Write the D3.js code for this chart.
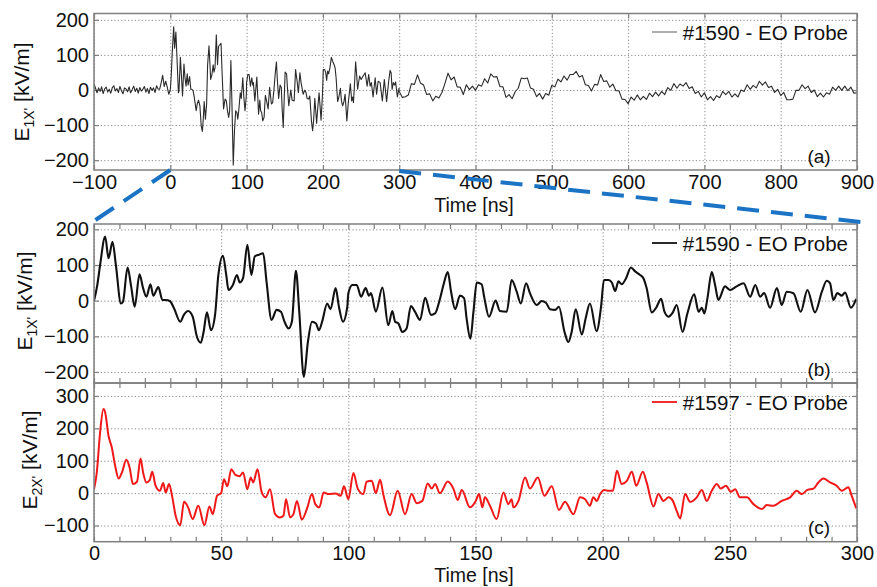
<!DOCTYPE html>
<html>
<head>
<meta charset="utf-8">
<script src="https://cdn.jsdelivr.net/npm/d3@7"></script>
<style>
body { margin: 0; background: #fff; }
text { font-family: "Liberation Sans", Arial, sans-serif; fill: #111; }
</style>
</head>
<body>
<svg id="fig" width="877" height="587"></svg>
<script>
// ---- data ----
// shot #1590, pre-trigger noise, one value every 2 ns from -100 ns
var pre1590Start = -100, pre1590Step = 2;
var pre1590 = [18, 5, -8, 6, -4, 9, -10, 3, 8, -6, 2, -9, 7, 12, -3, 4, -7, 10, -2, -11,
    6, 3, -5, 9, -8, 1, 11, -4, 5, -9, 7, -3, 2, 10, -6, 4, -10, 8, -1, 6,
    -7, 12, 3, 2, 20, 42, 10, 25, 8, -12];

// shot #1590, 0..300 ns  [t (ns), E (kV/m)]
var shot1590 = [[0,0],[1.3,44],[2.4,100],[4.4,180],[5.7,119],[7.3,165],[8.6,100],[10.6,-8],[11.4,-3],[13.2,93],
    [14.6,40],[16,-17],[17.9,74],[19.3,35],[20.6,11],[22.2,46],[23.3,14],[25.3,38],[26.9,2],[28.2,2],
    [29.8,-1],[31.5,-22],[33.9,-59],[35.4,-39],[37,-29],[38.8,-45],[40.5,-102],[42,-118],[43.1,-87],[44.4,-33],
    [46,-83],[47.6,-40],[48.9,72],[50.7,126],[52,72],[52.9,30],[54.6,44],[56.2,72],[57.3,51],[58.6,63],
    [60.3,157],[61.9,72],[63.2,124],[64.9,129],[66.5,133],[67.9,49],[69.8,-54],[71.8,-26],[73.5,-31],[74.9,-59],
    [76.5,-78],[77.8,-59],[79.4,84],[80.7,-31],[82.5,-214],[84.1,-116],[85.7,-59],[87.3,-64],[88.4,-83],[89.7,-59],
    [91.7,-8],[93,-24],[95,35],[96.3,-17],[97.9,-59],[99.6,-17],
    [100,21],[101.6,44],[103.3,44],[105,11],[106.8,35],[108.1,14],[108.9,21],[110.8,-31],[113.4,37],[115.7,-69],
    [117.3,-29],[118.4,-59],[119.7,-64],[121.2,-88],[122.9,-78],[124.6,-15],[126.2,-31],[128.2,-54],[130.2,8],[132.5,-40],
    [134.1,-36],[135.8,-1],[137.4,44],[139.1,80],[140.4,25],[142,-24],[143.9,14],[145.5,7],[146.5,-50],[148,-107],
    [149.2,-31],[150.5,51],[152.4,46],[153.5,7],[155.3,-45],[157.9,0],[159.6,-29],[162.3,-31],[164.2,58],[166.2,25],
    [167.8,-8],[169.9,49],[171.4,21],[174.1,-12],[176,-1],[177.7,-6],[179.3,-24],[181.3,-26],[182.8,-17],[185,-88],
    [186.5,-116],[187.8,-88],[189.4,-24],[191.8,-95],[193.3,-50],[195,-8],[197.6,-86],[199.4,-15],[200.5,58],[202.3,58],
    [203.6,51],[204.9,27],[206.2,54],[207.5,46],[209.2,63],[211.1,93],[212.8,82],[214.7,72],[216,63],[217.3,35],
    [219.3,-33],[221,-20],[223,5],[224.3,-31],[225.9,-45],[227.6,-33],[229.1,-12],[231.4,-88],[233.3,-36],[236,18],
    [237.7,-31],[239,-20],[240,-36],[241.2,7],[242.9,80],[244.2,44],[245.5,2],[248.1,40],[250.1,30],[252.7,40],
    [255.4,49],[258,11],[260,44],[261.9,11],[263.5,21],[265.8,-20],[268.5,35],[270.4,-12],[272.4,25],[275,21],
    [277.9,-31],[280.5,30],[283.5,-33],[286.2,25],[288.1,56],[289.4,49],[290.7,2],[292.3,21],[294,14],[295.3,23],
    [297.6,-20],[299.7,5]];

// shot #1590, 300..900 ns, one value every 4 ns
var post1590Start = 300, post1590Step = 4;
var post1590 = [-4, -21, -19, -14, 18, 16, 43, 19, 14, -13, -11, -31, -18, -23, -7, 19, 48, 29, 37, 9,
    8, -13, 15, 1, 11, -1, 15, 11, 32, 20, 46, 37, 38, 10, 9, -21, -13, -25, -5, 5,
    34, 32, 34, 6, 2, -19, -10, -26, -10, -15, 13, 9, 31, 23, 40, 28, 44, 44, 53, 37,
    41, 15, 13, -3, 16, 14, 44, 24, 26, 8, 17, -2, -2, -26, -27, -39, -20, -29, -14, -28,
    -18, -27, -9, -19, -6, -17, -4, -13, 7, -1, 18, 5, 17, 11, 21, 4, 9, -10, -4, -20,
    -8, -28, -19, -30, -16, -22, -4, -13, -4, -20, -11, -20, 0, -4, 15, 2, 13, 6, 25, 14,
    23, 7, 11, -7, 2, -16, -7, -28, -28, -26, -1, -1, 15, 4, 11, -7, 0, -19, -9, -20,
    -8, -12, 8, -1, 11, -1, 11, -2, 8, -9, -8];

// shot #1597, 0..300 ns  [t (ns), E (kV/m)]
var shot1597 = [[0,12],[1.1,64],[2.4,188],[3.7,260],[4.4,249],[5.7,177],[7,141],[8.3,85],[9.7,45],[11,64],
    [12.7,103],[14,79],[15.3,28],[16.9,35],[18.3,107],[19.3,64],[20.6,33],[21.9,40],[22.9,66],[24.2,23],
    [25.9,7],[27.2,31],[28.2,2],[29.5,28],[30.8,-13],[32.1,-70],[33.9,-99],[35.4,-27],[37,-44],[38.8,-80],
    [41,-39],[43.4,-99],[45.4,-41],[46.7,-65],[48.4,-8],[50,0],[51.1,43],[52.4,21],[54,74],[55.6,56],
    [57.3,52],[58.6,64],[60.3,12],[61.6,48],[62.6,33],[64.3,74],[65.9,4],[67.5,-13],[69.2,12],[71.2,-65],
    [73.1,-75],[74.5,-70],[75.5,-19],[77.1,-75],[78.4,-65],[79.8,-24],[81.7,-82],[83.7,-49],[85.7,-3],[87,-34],
    [88.6,-44],[90.3,2],[92.3,-3],[95,-1],[97,-8],[98.3,21],[100,-19],[102,62],[103.7,14],[105.9,-3],
    [107.2,35],[109.2,38],[110.8,0],[112.5,41],[113.8,-6],[116.4,-68],[119.4,7],[122.3,-65],[124.9,-3],[126.9,-31],
    [129.1,-24],[131.2,30],[132.8,14],[134.1,28],[136,0],[139.1,36],[141.3,14],[143,-21],[144.6,10],[147.8,-44],
    [150.1,-24],[151.4,-3],[152.7,-44],[153.7,-13],[155.7,-39],[158.3,-80],[161,2],[162.9,-34],[164.2,-19],[164.9,-44],
    [166.9,-24],[169.5,48],[171.4,14],[174.5,48],[177.1,-8],[180,21],[182.8,-52],[185.2,-27],[188.5,-65],[191.1,-13],
    [193.1,-19],[195,-39],[196.3,-13],[197.7,-24],[199,-3],[200.6,10],[202.3,7],[204,7],[205.6,69],[207.5,28],
    [209.5,38],[211.5,66],[213.2,23],[215.8,66],[217.3,33],[220,-41],[221.9,-3],[223.9,-24],[225.9,-13],[227.6,-24],
    [229.1,-55],[230.5,-78],[232.4,-3],[234.4,-27],[237,-13],[239,10],[240.9,-24],[242.9,7],[244.9,28],[246.4,14],
    [248.5,23],[250.4,4],[252.1,12],[254,-13],[256.7,-13],[259.3,-34],[262.6,-49],[264.5,-37],[267.2,-39],[270.4,-24],
    [273.7,-13],[276.3,7],[278.3,-3],[280.5,10],[282.9,14],[284.8,33],[286.8,45],[289.4,33],[292,23],[294,7],
    [296.6,18],[297.9,-8],[299.7,-47]];

var xTicksA = [-100, 0, 100, 200, 300, 400, 500, 600, 700, 800, 900];
var xTicksBC = [0, 50, 100, 150, 200, 250, 300];
var yTicksAB = [-200, -100, 0, 100, 200];
var yTicksC = [-100, 0, 100, 200, 300];

// ---- layout ----
var svg = d3.select("#fig");
var left = 94, right = 857;
var gridColor = "#8a8a8a", boxColor = "#7f7f7f";

var seriesA = pre1590.map(function (v, i) { return [pre1590Start + i * pre1590Step, v]; })
    .concat(shot1590)
    .concat(post1590.map(function (v, i) { return [post1590Start + i * post1590Step, v]; }));

var panels = [
    { id: "a", top: 13.5, bottom: 170, xd: [-100, 900], yd: [-228, 218], xt: xTicksA, yt: yTicksAB,
      data: seriesA, color: "#2a2a2a", width: 1.1, legend: "#1590 - EO Probe", legendY: 32,
      minor: false, xlab: true, tickPad: 5, titleY: 212, ylabSub: "1X'", ylabX: 29, ylabY: 92,
      curve: d3.curveLinear },
    { id: "b", top: 224, bottom: 383, xd: [0, 300], yd: [-231, 215], xt: xTicksBC, yt: yTicksAB,
      data: shot1590, color: "#111", width: 2.1, legend: "#1590 - EO Probe", legendY: 243,
      minor: true, xlab: false, ylabSub: "1X'", ylabX: 32, ylabY: 301, curve: d3.curveMonotoneX },
    { id: "c", top: 383, bottom: 541.7, xd: [0, 300], yd: [-150, 340], xt: xTicksBC, yt: yTicksC,
      data: shot1597, color: "#f01818", width: 2, legend: "#1597 - EO Probe", legendY: 402,
      minor: true, xlab: true, tickPad: 4.5, titleY: 581.5, ylabSub: "2X'", ylabX: 37, ylabY: 460,
      curve: d3.curveMonotoneX }
];

var xScales = {};

panels.forEach(function (p) {
    var x = d3.scaleLinear().domain(p.xd).range([left, right]);
    var y = d3.scaleLinear().domain(p.yd).range([p.bottom, p.top]);
    xScales[p.id] = x;
    var h = p.bottom - p.top, w = right - left;
    var g = svg.append("g");

    g.append("clipPath").attr("id", "clip-" + p.id)
        .append("rect").attr("x", left).attr("y", p.top).attr("width", w).attr("height", h);

    // grid
    g.append("g").attr("transform", "translate(0," + p.bottom + ")")
        .call(d3.axisBottom(x).tickValues(p.xt).tickSize(-h).tickFormat(""))
        .call(function (s) { s.select(".domain").remove(); })
        .selectAll("line").attr("stroke", gridColor).attr("stroke-dasharray", "1.2,2.2");
    g.append("g").attr("transform", "translate(" + left + ",0)")
        .call(d3.axisLeft(y).tickValues(p.yt).tickSize(-w).tickFormat(""))
        .call(function (s) { s.select(".domain").remove(); })
        .selectAll("line").attr("stroke", gridColor).attr("stroke-dasharray", "1.2,2.2");

    // inward ticks
    var xt = p.minor ? d3.range(p.xd[0], p.xd[1] + 1, 10) : p.xt;
    [["bottom", p.bottom, -5], ["top", p.top, 5]].forEach(function (e) {
        g.append("g").attr("transform", "translate(0," + e[1] + ")")
            .call(d3.axisBottom(x).tickValues(xt).tickSize(e[2]).tickFormat(""))
            .call(function (s) { s.select(".domain").remove(); })
            .selectAll("line").attr("stroke", boxColor).attr("stroke-width", 1.2);
    });
    [[left, 5], [right, -5]].forEach(function (e) {
        g.append("g").attr("transform", "translate(" + e[0] + ",0)")
            .call(d3.axisLeft(y).tickValues(p.yt).tickSize(-e[1]).tickFormat(""))
            .call(function (s) { s.select(".domain").remove(); })
            .selectAll("line").attr("stroke", boxColor).attr("stroke-width", 1.2);
    });

    // y tick labels
    g.append("g").attr("transform", "translate(" + left + ",0)")
        .call(d3.axisLeft(y).tickValues(p.yt).tickSize(0).tickPadding(5))
        .call(function (s) { s.select(".domain").remove(); })
        .selectAll("text").style("font-size", "20px").attr("fill", "#111")
        .style("font-family", '"Liberation Sans", Arial, sans-serif');

    // x tick labels + title
    if (p.xlab) {
        g.append("g").attr("transform", "translate(0," + p.bottom + ")")
            .call(d3.axisBottom(x).tickValues(p.xt).tickSize(0).tickPadding(p.tickPad))
            .call(function (s) { s.select(".domain").remove(); })
            .selectAll("text").style("font-size", "20px").attr("fill", "#111")
            .style("font-family", '"Liberation Sans", Arial, sans-serif');
        g.append("text").attr("x", 474).attr("y", p.titleY)
            .attr("text-anchor", "middle").style("font-size", "19.5px").text("Time [ns]");
    }

    // trace
    var line = d3.line().curve(p.curve)
        .x(function (d) { return x(d[0]); }).y(function (d) { return y(d[1]); });
    g.append("path").datum(p.data).attr("d", line)
        .attr("clip-path", "url(#clip-" + p.id + ")")
        .attr("fill", "none").attr("stroke", p.color).attr("stroke-width", p.width)
        .attr("stroke-linejoin", "round");

    // box
    g.append("rect").attr("x", left).attr("y", p.top).attr("width", w).attr("height", h)
        .attr("fill", "none").attr("stroke", boxColor).attr("stroke-width", 1.5);

    // legend
    g.append("line").attr("x1", 652).attr("x2", 677).attr("y1", p.legendY).attr("y2", p.legendY)
        .attr("stroke", p.id === "a" ? "#777" : p.color).attr("stroke-width", p.id === "a" ? 1.2 : 1.8);
    g.append("text").attr("x", 848).attr("y", p.legendY + 7.5).attr("text-anchor", "end")
        .style("font-size", "20.5px").text(p.legend);

    // panel tag
    g.append("text").attr("x", 819).attr("y", p.bottom - 7.5).attr("text-anchor", "middle")
        .style("font-size", "19px").text("(" + p.id + ")");

    // y label
    var yl = g.append("text")
        .attr("transform", "translate(" + p.ylabX + "," + p.ylabY + ") rotate(-90)")
        .attr("text-anchor", "middle").style("font-size", "21px");
    yl.append("tspan").text("E");
    yl.append("tspan").attr("dy", 5).style("font-size", "14px").text(p.ylabSub);
    yl.append("tspan").attr("dy", -5).text(" [kV/m]");
});

// zoom connectors from panel (a) to panel (b)
var xa = xScales.a;
svg.append("g").selectAll("line")
    .data([[0, 170, 91, 223], [300, 171, 861, 222]])
    .enter().append("line")
    .attr("x1", function (d) { return xa(d[0]); }).attr("y1", function (d) { return d[1]; })
    .attr("x2", function (d) { return d[2]; }).attr("y2", function (d) { return d[3]; })
    .attr("stroke", "#1a73c4").attr("stroke-width", 4).attr("stroke-dasharray", "22,12");
</script>
</body>
</html>
